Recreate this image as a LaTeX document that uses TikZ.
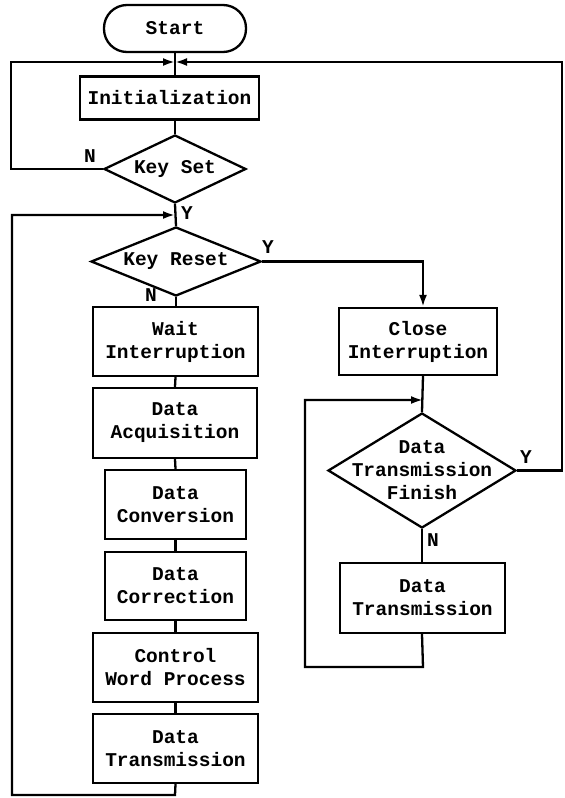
\documentclass[tikz,border=0pt]{standalone}
\usepackage{fontspec}
\setmonofont{Liberation Mono}
\usetikzlibrary{shapes.geometric,arrows.meta}
\begin{document}
\begin{tikzpicture}[x=1pt,y=-1pt,
  every node/.style={font=\ttfamily\bfseries\fontsize{19.5}{23}\selectfont, align=center},
  proc/.style={draw, line width=2.3pt, rectangle, inner sep=0pt},
  term/.style={draw, line width=2.3pt, rectangle, rounded corners=23pt, inner sep=0pt, minimum width=142pt, minimum height=47pt},
  decision/.style={draw, line width=2.3pt, diamond, inner sep=0pt},
  conn/.style={line width=2.3pt},
  arr/.style={line width=2.3pt, -{Latex[length=12pt,width=8pt]}},
  lbl/.style={inner sep=0pt}
]
\useasboundingbox (0,0) rectangle (565,798);
% main column
\node[term] (start) at (175,28.5) {Start};
\node[proc, minimum width=179pt, minimum height=43pt] (init) at (169.5,98) {Initialization};
\node[decision, minimum width=142pt, minimum height=68pt, label={center:Key Set}] (keyset) at (175,169) {};
\node[decision, minimum width=170pt, minimum height=69pt, label={center:Key Reset}] (keyreset) at (176,261.5) {};
\node[proc, minimum width=165pt, minimum height=69pt] (wait) at (175.5,341.5) {Wait\\Interruption};
\node[proc, minimum width=164pt, minimum height=70pt] (acq) at (175,423) {Data\\Acquisition};
\node[proc, minimum width=141pt, minimum height=69pt] (conv) at (175.5,504.5) {Data\\Conversion};
\node[proc, minimum width=141pt, minimum height=68pt] (corr) at (175.5,586) {Data\\Correction};
\node[proc, minimum width=165pt, minimum height=69pt] (ctrl) at (175.5,667.5) {Control\\Word Process};
\node[proc, minimum width=165pt, minimum height=69pt] (tx1) at (175.5,748.5) {Data\\Transmission};
% right column
\node[proc, minimum width=158pt, minimum height=67pt] (close) at (418,341.5) {Close\\Interruption};
\node[decision, minimum width=188pt, minimum height=115pt, label={center:Data\\Transmission\\Finish}] (finish) at (422,470.5) {};
\node[proc, minimum width=165pt, minimum height=70pt] (tx2) at (422.5,598) {Data\\Transmission};
% junction coordinates
\coordinate (j1) at (175,62);
\coordinate (j2) at (175,215);
\coordinate (j3) at (423,400);
\coordinate (lA) at (11,62);
\coordinate (lB) at (12,215);
\coordinate (rA) at (562,62);
\coordinate (bot) at (175,795);
\coordinate (lC) at (305,400);
\coordinate (bot2) at (423,667);
% connectors main column
\draw[conn] (start.south) -- (start.south |- init.north);
\draw[conn] (j1 |- init.south) -- (keyset.north);
\draw[conn] (keyset.south) -- (keyreset.north);
\draw[conn] (keyreset.south) -- (keyreset.south |- wait.north);
\draw[conn] (wait.south) -- (acq.north);
\draw[conn] (acq.south) -- (conv.north);
\draw[conn] (conv.south) -- (corr.north);
\draw[conn] (corr.south) -- (ctrl.north);
\draw[conn] (ctrl.south) -- (tx1.north);
% loops
\draw[arr] (keyset.west) -- (lA |- keyset.west) -- (lA) -- (j1);
\draw[arr] (finish.east) -- (rA |- finish.east) -- (rA) -- (j1);
\draw[arr] (tx1.south) -- (bot) -- (lB |- bot) -- (lB) -- (j2);
\draw[arr] (keyreset.east) -- (j3 |- keyreset.east) -- (j3 |- close.north);
\draw[conn] (j3 |- close.south) -- (finish.north);
\draw[conn] (finish.south) -- (finish.south |- tx2.north);
\draw[arr] (finish.south |- tx2.south) -- (bot2) -- (lC |- bot2) -- (lC) -- (j3);
% labels
\node[lbl] (nks) at (90,156) {N};
\node[lbl] (yks) at (187,213) {Y};
\node[lbl] (ykr) at (268,247) {Y};
\node[lbl] (nkr) at (151,295) {N};
\node[lbl] (yfi) at (526,457) {Y};
\node[lbl] (nfi) at (433,540) {N};
\end{tikzpicture}
\end{document}
